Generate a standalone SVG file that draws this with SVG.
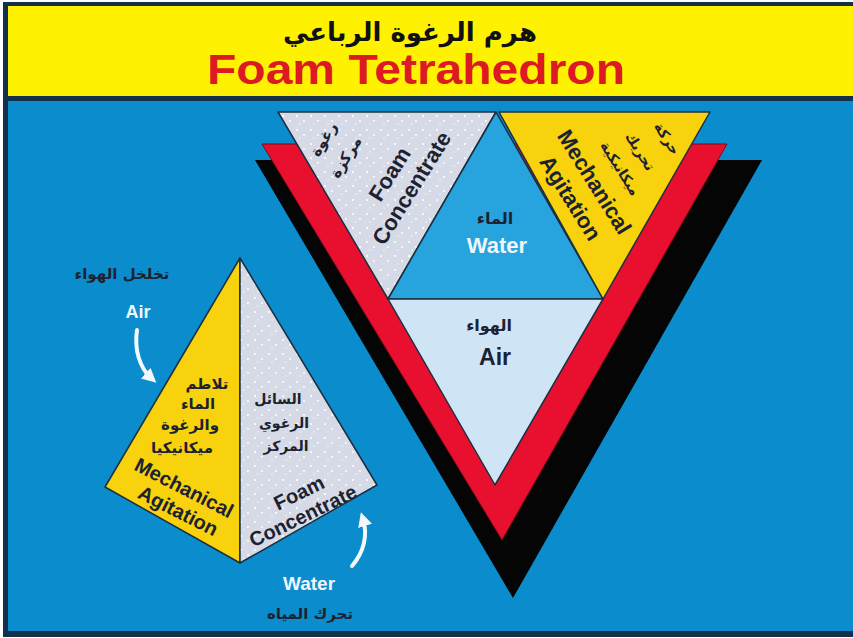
<svg xmlns="http://www.w3.org/2000/svg" width="853" height="638" viewBox="0 0 853 638">
<defs>
<pattern id="dots" width="14" height="14" patternUnits="userSpaceOnUse">
<rect width="14" height="14" fill="#d6dae6"/>
<circle cx="3" cy="4" r="1.1" fill="#ffffff"/>
<circle cx="10" cy="9" r="1" fill="#ffffff"/>
<circle cx="6" cy="12" r="0.8" fill="#f4f6fb"/>
</pattern>
<marker id="ah" viewBox="0 0 10 10" refX="5" refY="5" markerWidth="3.6" markerHeight="3.6" orient="auto" markerUnits="strokeWidth">
<path d="M0,0 L10,5 L0,10 Z" fill="#f2f8fc"/>
</marker>
<style>
.en{font-family:"Liberation Sans",Arial,sans-serif;font-weight:bold;text-anchor:middle}
.ar{font-family:"DejaVu Sans","Noto Sans",sans-serif;font-weight:bold;text-anchor:middle}
.dk{fill:#1c2230}
.wt{fill:#eef6fb}
.face{stroke:#1b2f40;stroke-width:1.5;stroke-linejoin:round}
.arr{fill:none;stroke:#f2f8fc;stroke-width:4;stroke-linecap:round}
</style>
</defs>
<rect width="853" height="638" fill="#ffffff"/>
<rect x="3" y="2" width="850" height="635" fill="#13304a"/>
<g id="title">
<rect x="8" y="6" width="845" height="90" fill="#fef200"/>
<text class="ar" x="410" y="41" font-size="26" fill="#111">هرم الرغوة الرباعي</text>
<text class="en" x="416" y="84" font-size="42" fill="#dc1a22" textLength="418" lengthAdjust="spacingAndGlyphs">Foam Tetrahedron</text>
</g>
<rect x="8" y="101" width="845" height="530" fill="#0b8ccc"/>
<g id="big-tetrahedron">
<polygon points="255,160 762,160 513,598" fill="#050505"/>
<polygon points="262,144 727,144 502,540" fill="#e8102e" stroke="#7a0a16" stroke-width="1"/>
<g id="foam-concentrate">
<polygon class="face" points="278,112 496,112 388,299" fill="url(#dots)"/>
<text class="ar dk" font-size="15" transform="translate(328,142) rotate(-58)">رغوة</text>
<text class="ar dk" font-size="15" transform="translate(350,160) rotate(-58)">مركزة</text>
<text class="en dk" font-size="22" transform="translate(396,178) rotate(-58)">Foam</text>
<text class="en dk" font-size="22" transform="translate(418,192) rotate(-58)">Concentrate</text>
</g>
<g id="water">
<polygon class="face" points="496,112 388,299 603,299" fill="#27a3de"/>
<text class="ar dk" x="495" y="224" font-size="16">الماء</text>
<text class="en wt" x="497" y="253" font-size="22">Water</text>
</g>
<g id="mechanical-agitation">
<polygon class="face" points="499,112 710,112 603,299" fill="#f8d20c"/>
<text class="en dk" font-size="22" transform="translate(588,186) rotate(58)">Mechanical</text>
<text class="en dk" font-size="22" transform="translate(564,202) rotate(58)">Agitation</text>
<text class="ar dk" font-size="14" transform="translate(616,171) rotate(58)">ميكانيكية</text>
<text class="ar dk" font-size="14" transform="translate(636,154) rotate(58)">تحريك</text>
<text class="ar dk" font-size="14" transform="translate(663,141) rotate(58)">حركة</text>
</g>
<g id="air">
<polygon class="face" points="388,299 603,299 495,485" fill="#cfe5f5"/>
<text class="ar dk" x="489" y="331" font-size="16">الهواء</text>
<text class="en dk" x="495" y="365" font-size="23">Air</text>
</g>
</g>
<g id="small-pyramid">
<g id="p-mechanical">
<polygon class="face" points="240,258 105,487 240,563" fill="#f8d20c"/>
<text class="ar dk" x="207" y="389" font-size="15">تلاطم</text>
<text class="ar dk" x="198" y="409" font-size="15">الماء</text>
<text class="ar dk" x="190" y="430" font-size="15">والرغوة</text>
<text class="ar dk" x="182" y="453" font-size="15">ميكانيكيا</text>
<text class="en dk" font-size="20" transform="translate(181,494) rotate(27)">Mechanical</text>
<text class="en dk" font-size="20" transform="translate(175,517) rotate(27)">Agitation</text>
</g>
<g id="p-foam">
<polygon class="face" points="240,258 240,563 377,485" fill="url(#dots)"/>
<text class="ar dk" x="278" y="404" font-size="14">السائل</text>
<text class="ar dk" x="284" y="428" font-size="14">الرغوي</text>
<text class="ar dk" x="286" y="451" font-size="14">المركز</text>
<text class="en dk" font-size="20" transform="translate(302,499) rotate(-26)">Foam</text>
<text class="en dk" font-size="20" transform="translate(306,522) rotate(-26)">Concentrate</text>
</g>
</g>
<g id="labels">
<text class="ar dk" x="122" y="279" font-size="15">تخلخل الهواء</text>
<text class="en wt" x="138" y="318" font-size="18">Air</text>
<text class="en wt" x="309" y="590" font-size="19">Water</text>
<text class="ar dk" x="310" y="619" font-size="15">تحرك المياه</text>
</g>
<g id="connectors">
<path class="arr" d="M137,330 C134,350 140,368 151,378" marker-end="url(#ah)"/>
<path class="arr" d="M352,566 C364,552 368,535 363,519" marker-end="url(#ah)"/>
</g>
</svg>
